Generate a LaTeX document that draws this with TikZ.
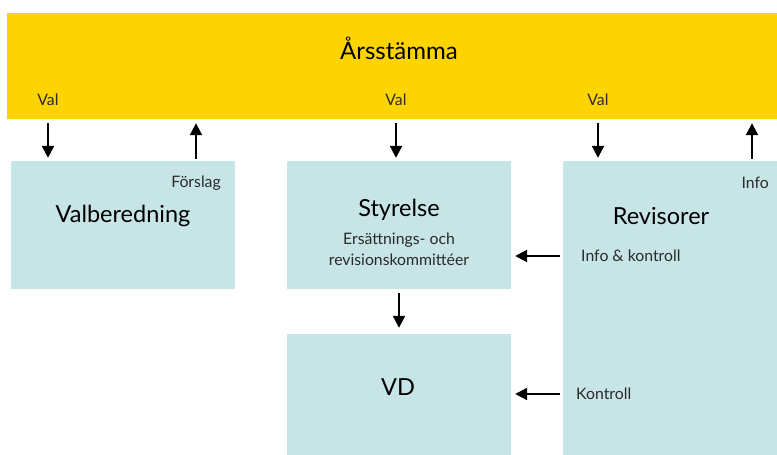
\documentclass[tikz,border=0pt]{standalone}
\usepackage{fontspec}
\setmainfont{Lato}
\usepackage{xcolor}
\usetikzlibrary{arrows.meta}

\definecolor{gul}{HTML}{FDD300}
\definecolor{ljusbla}{HTML}{C7E4E7}
\definecolor{textgra}{HTML}{2B2B2B}

\tikzset{
    ruta/.style={fill=ljusbla, draw=none, inner sep=0pt},
    pil/.style={line width=2.2pt, -{Triangle[length=12pt, width=12pt]}},
    liten/.style={font=\fontsize{15.8}{18}\selectfont, text=textgra, inner sep=0pt},
    rubrik/.style={font=\fontsize{23.5}{26}\selectfont, inner sep=0pt}
}

\begin{document}
\begin{tikzpicture}[x=1pt, y=-1pt]
        \useasboundingbox (0, 0) rectangle (777, 455);

        % boxes
        \node[fill=gul, inner sep=0pt, minimum width=770pt, minimum height=106pt] (band) at (392, 66) {};
        \node[ruta, minimum width=224pt, minimum height=128pt] (valb) at (123, 225) {};
        \node[ruta, minimum width=224pt, minimum height=128pt] (styr) at (399, 225) {};
        \node[ruta, minimum width=224pt, minimum height=121pt] (vd) at (399, 394.5) {};
        \node[ruta, minimum width=214pt, minimum height=294pt] (rev) at (670, 308) {};

        % texts
        \node[font=\fontsize{24}{28}\selectfont, inner sep=0pt] (arsst) at (399, 48) {Årsstämma};
        \node[liten] (val1) at (48, 100) {Val};
        \node[liten] (val2) at (396, 100) {Val};
        \node[liten] (val3) at (598, 100) {Val};
        \node[liten, anchor=east] (forslag) at (221, 183) {Förslag};
        \node[liten, anchor=east] (info) at (769, 183) {Info};
        \node[rubrik] (valbtxt) at (123, 216) {Valberedning};
        \node[rubrik] (styrtxt) at (399, 210) {Styrelse};
        \node[liten] (komm1) at (399, 240) {Ersättnings- och};
        \node[liten] (komm2) at (399, 260) {revisionskommittéer};
        \node[rubrik] (revtxt) at (661, 216) {Revisorer};
        \node[liten, anchor=west] (infokontr) at (581, 256) {Info \& kontroll};
        \node[liten, anchor=west] (kontr) at (576, 394) {Kontroll};
        \node[rubrik] (vdtxt) at (398, 387) {VD};

        % arrows
        \draw[pil, shorten <=4pt, shorten >=3pt] (band.south -| val1) -- (valb.north -| val1);
        \draw[pil, shorten <=2pt, shorten >=4pt] ([xshift=73pt]valb.north) -- ([xshift=73pt]valb.north |- band.south);
        \draw[pil, shorten <=4pt, shorten >=3pt] (band.south -| val2) -- (styr.north -| val2);
        \draw[pil, shorten <=4pt, shorten >=3pt] (band.south -| val3) -- (rev.north -| val3);
        \draw[pil, shorten <=2pt, shorten >=4pt] ([xshift=82pt]rev.north) -- ([xshift=82pt]rev.north |- band.south);
        \draw[pil, shorten <=4pt, shorten >=6pt] (styr.south) -- (vd.north);
        \draw[pil, shorten <=3pt, shorten >=4pt] (rev.west |- infokontr) -- (styr.east |- infokontr);
        \draw[pil, shorten <=3pt, shorten >=4pt] (rev.west |- kontr) -- (vd.east |- kontr);
    \end{tikzpicture}
\end{document}
